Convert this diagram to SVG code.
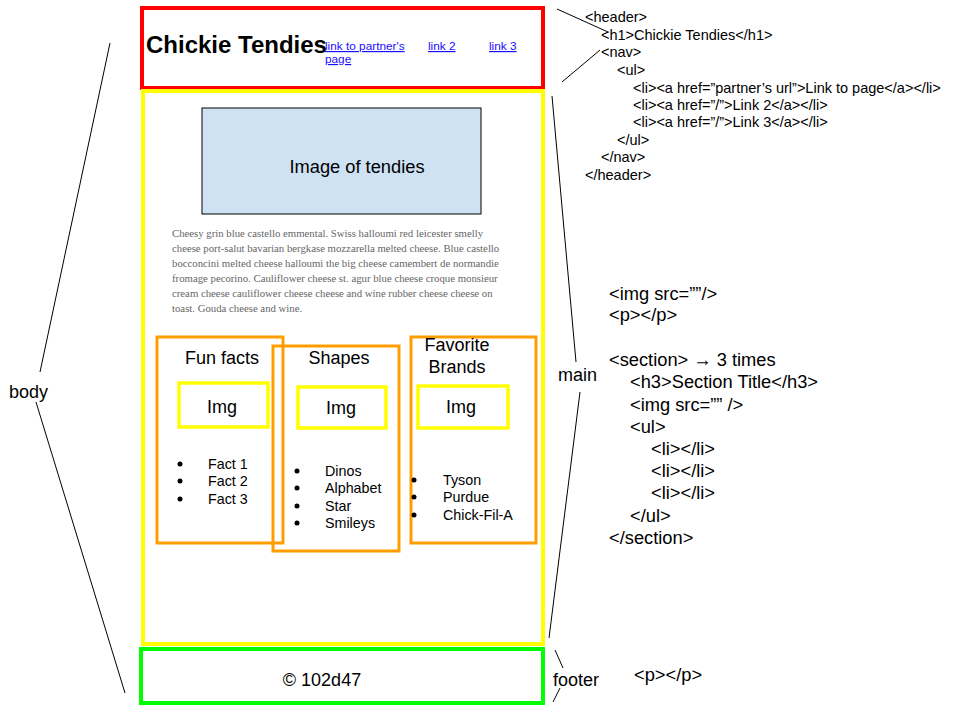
<svg xmlns="http://www.w3.org/2000/svg" width="960" height="720" viewBox="0 0 960 720">
<style>
.s{font-family:"Liberation Sans",Arial,sans-serif;fill:#000}
.code{font-size:14.5px}
.code2{font-size:18.3px}
.lk{font-family:"Liberation Sans",Arial,sans-serif;font-size:11.8px;fill:#1a0dff;text-decoration:underline}
.para{font-family:"Liberation Serif","Times New Roman",serif;font-size:10.75px;fill:#666}
.sec{fill:none;stroke:#ff9d00;stroke-width:3}
.img{fill:none;stroke:#ffff00;stroke-width:3.5}
.t18{font-size:18px}
.t14{font-size:14.3px}
.lab{font-size:18px}
.ln{stroke:#000;stroke-width:1;fill:none}
</style>
<rect width="960" height="720" fill="#fff"/>
<g id="header">
<rect x="142" y="8" width="401" height="80" fill="none" stroke="#ff0000" stroke-width="4"/>
<text class="s" x="146" y="53" font-size="24" font-weight="bold">Chickie Tendies</text>
<text class="lk" x="325" y="50">link to partner's</text>
<text class="lk" x="325" y="63">page</text>
<text class="lk" x="428" y="50">link 2</text>
<text class="lk" x="489" y="50">link 3</text>
</g>
<g id="main">
<rect x="143" y="91" width="400" height="553" fill="none" stroke="#ffff00" stroke-width="4"/>
<rect x="202" y="108" width="279" height="106" fill="#cfe2f3" stroke="#000" stroke-width="1"/>
<text class="s" x="357" y="173" text-anchor="middle" font-size="18.3">Image of tendies</text>
<text class="para" x="172" y="237">Cheesy grin blue castello emmental. Swiss halloumi red leicester smelly</text>
<text class="para" x="172" y="252">cheese port-salut bavarian bergkase mozzarella melted cheese. Blue castello</text>
<text class="para" x="172" y="267">bocconcini melted cheese halloumi the big cheese camembert de normandie</text>
<text class="para" x="172" y="282">fromage pecorino. Cauliflower cheese st. agur blue cheese croque monsieur</text>
<text class="para" x="172" y="297">cream cheese cauliflower cheese cheese and wine rubber cheese cheese on</text>
<text class="para" x="172" y="312">toast. Gouda cheese and wine.</text>
</g>
<g id="section1">
<rect class="sec" x="157" y="337" width="126" height="206"/>
<text class="s t18" x="222" y="364" text-anchor="middle">Fun facts</text>
<rect class="img" x="179" y="383" width="89" height="44"/>
<text class="s t18" x="222" y="413" text-anchor="middle">Img</text>
<circle cx="180" cy="464" r="2.5"/><text class="s t14" x="208" y="469">Fact 1</text>
<circle cx="180" cy="481" r="2.5"/><text class="s t14" x="208" y="486">Fact 2</text>
<circle cx="180" cy="499" r="2.5"/><text class="s t14" x="208" y="504">Fact 3</text>
</g>
<g id="section2">
<rect class="sec" x="273" y="346" width="126" height="205"/>
<text class="s t18" x="339" y="364" text-anchor="middle">Shapes</text>
<rect class="img" x="298" y="387" width="88" height="41"/>
<text class="s t18" x="341" y="414" text-anchor="middle">Img</text>
<circle cx="297" cy="471" r="2.5"/><text class="s t14" x="325" y="476">Dinos</text>
<circle cx="297" cy="488" r="2.5"/><text class="s t14" x="325" y="493">Alphabet</text>
<circle cx="297" cy="506" r="2.5"/><text class="s t14" x="325" y="511">Star</text>
<circle cx="297" cy="523" r="2.5"/><text class="s t14" x="325" y="528">Smileys</text>
</g>
<g id="section3">
<rect class="sec" x="411" y="337" width="125" height="206"/>
<text class="s t18" x="457" y="351" text-anchor="middle">Favorite</text>
<text class="s t18" x="457" y="373" text-anchor="middle">Brands</text>
<rect class="img" x="418" y="386" width="90" height="42"/>
<text class="s t18" x="461" y="413" text-anchor="middle">Img</text>
<circle cx="414" cy="480" r="2.5"/><text class="s t14" x="443" y="485">Tyson</text>
<circle cx="414" cy="497" r="2.5"/><text class="s t14" x="443" y="502">Purdue</text>
<circle cx="414" cy="515" r="2.5"/><text class="s t14" x="443" y="520">Chick-Fil-A</text>
</g>
<g id="footer">
<rect x="141" y="649" width="402" height="54" fill="none" stroke="#00ff00" stroke-width="4"/>
<text class="s t18" x="322" y="686" text-anchor="middle">© 102d47</text>
</g>
<g id="labels">
<text class="s lab" x="9" y="398">body</text>
<text class="s lab" x="558" y="381">main</text>
<text class="s lab" x="553" y="686">footer</text>
</g>
<g id="code-header" class="s code">
<text x="585" y="22">&lt;header&gt;</text>
<text x="601" y="40">&lt;h1&gt;Chickie Tendies&lt;/h1&gt;</text>
<text x="601" y="57">&lt;nav&gt;</text>
<text x="617" y="75">&lt;ul&gt;</text>
<text x="633" y="93">&lt;li&gt;&lt;a href=”partner’s url”&gt;Link to page&lt;/a&gt;&lt;/li&gt;</text>
<text x="633" y="110">&lt;li&gt;&lt;a href=”/”&gt;Link 2&lt;/a&gt;&lt;/li&gt;</text>
<text x="633" y="127">&lt;li&gt;&lt;a href=”/”&gt;Link 3&lt;/a&gt;&lt;/li&gt;</text>
<text x="617" y="145">&lt;/ul&gt;</text>
<text x="601" y="162">&lt;/nav&gt;</text>
<text x="585" y="180">&lt;/header&gt;</text>
</g>
<g id="code-main" class="s code2">
<text x="609" y="300">&lt;img src=””/&gt;</text>
<text x="609" y="321">&lt;p&gt;&lt;/p&gt;</text>
<text x="609" y="366">&lt;section&gt; → 3 times</text>
<text x="630" y="388">&lt;h3&gt;Section Title&lt;/h3&gt;</text>
<text x="630" y="411">&lt;img src=”” /&gt;</text>
<text x="630" y="433">&lt;ul&gt;</text>
<text x="651" y="455">&lt;li&gt;&lt;/li&gt;</text>
<text x="651" y="477">&lt;li&gt;&lt;/li&gt;</text>
<text x="651" y="499">&lt;li&gt;&lt;/li&gt;</text>
<text x="630" y="522">&lt;/ul&gt;</text>
<text x="609" y="544">&lt;/section&gt;</text>
</g>
<g id="code-footer" class="s code2">
<text x="634" y="681">&lt;p&gt;&lt;/p&gt;</text>
</g>
<g id="connectors" class="ln">
<line x1="557" y1="9" x2="608" y2="32"/>
<line x1="600" y1="50" x2="562" y2="82"/>
<line x1="110" y1="43" x2="40" y2="372"/>
<line x1="36" y1="402" x2="125" y2="693"/>
<line x1="552" y1="96" x2="576" y2="362"/>
<line x1="580" y1="392" x2="549" y2="638"/>
<line x1="555" y1="650" x2="563" y2="668"/>
<line x1="560" y1="688" x2="553" y2="702"/>
</g>
</svg>
